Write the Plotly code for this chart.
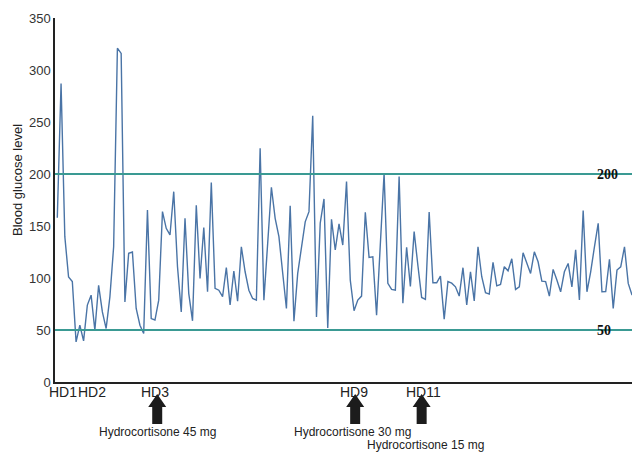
import plotly.graph_objects as go

# Blood glucose readings in measurement order
glucose = [
    158, 287, 140, 101, 96.6, 38.5, 54.6, 39.5, 74, 83.5,
    49.8, 93, 67.4, 51.4, 81.9, 130, 321, 316, 77, 123.7,
    125, 70.7, 54.6, 46.6, 165.4, 61, 59.6, 78.7, 163.8, 147.8,
    141.4, 183, 110.8, 67.4, 157.4, 85, 58.8, 170, 99.6, 148.4,
    86.7, 191.7, 90, 88.3, 82, 110, 74, 106.7, 77.7, 130,
    106, 88.3, 80.3, 78.7, 224.8, 78.7, 133, 187.3, 157.4, 139.7,
    105, 70.7, 169.5, 58.5, 104.4, 130, 154, 163.8, 256, 62.6,
    152.7, 176, 52, 156.4, 126.9, 152, 131.7, 192.7, 98, 68.5,
    78.8, 82.6, 163.2, 119.8, 120.4, 64.2, 130, 200.7, 94.8, 89,
    88.3, 197.5, 75.8, 129.5, 91.8, 144.6, 112, 81.3, 79.4, 163.5,
    95.4, 95.4, 101.8, 60.5, 96.6, 95, 91.5, 82.6, 109.9, 74,
    106, 78, 130, 101.2, 85.8, 84.5, 115, 92.5, 93.8, 110.8,
    106.9, 118.5, 89, 91.5, 124.3, 113.4, 104.4, 125.2, 115.6, 97,
    96.5, 82.6, 108.3, 98, 86.7, 106, 114, 91.5, 127, 78.8,
    164.8, 86.7, 106, 130, 152.6, 86.7, 87, 118, 70.7, 107.6,
    110.8, 130, 94.8, 83.5,
]
measurement = list(range(len(glucose)))

# Reference thresholds
thresholds = [200, 50]
threshold_labels = ["200", "50"]

# Hospital-day labels (position in measurement index)
hd_labels = ["HD1", "HD2", "HD3", "HD9", "HD11"]
hd_index = [1.4, 9.2, 26.1, 78.9, 97.4]

# Hydrocortisone doses (arrow position in measurement index)
dose_labels = ["Hydrocortisone 45 mg", "Hydrocortisone 30 mg", "Hydrocortisone 15 mg"]
dose_index = [26.6, 79.3, 97.0]
dose_text_index = [26.7, 78.5, 97.9]

y_ticks = [0, 50, 100, 150, 200, 250, 300, 350]

W, H = 632, 452
ML, MR, MT, MB = 55, 0, 18, 70
plot_w = W - ML - MR
plot_h = H - MT - MB
first_px = 57.3
step_px = (W - first_px) / (len(glucose) - 1)
x0 = -(first_px - ML) / step_px
x1 = len(glucose) - 1


def py(pix):
    # pixel row -> paper y
    return (H - MB - pix) / plot_h


fig = go.Figure()
fig.add_trace(go.Scatter(
    x=measurement, y=glucose, mode="lines",
    line=dict(color="#4a74a6", width=1.4), hoverinfo="skip", showlegend=False,
))

shapes = []
for t in thresholds:
    shapes.append(dict(type="line", xref="paper", yref="y", x0=0, x1=1, y0=t, y1=t,
                       line=dict(color="#3a9a93", width=2), layer="above"))

annotations = []
for t, lab in zip(thresholds, threshold_labels):
    annotations.append(dict(x=(595 - ML) / plot_w, xref="paper", y=t, yref="y",
                            text="<b>%s</b>" % lab, showarrow=False, xanchor="left",
                            yanchor="middle",
                            font=dict(family="Liberation Serif", size=14, color="#111")))

for lab, xi in zip(hd_labels, hd_index):
    annotations.append(dict(x=xi, xref="x", y=py(392), yref="paper", text=lab,
                            showarrow=False, xanchor="center", yanchor="middle",
                            font=dict(family="Liberation Sans, Arial", size=14, color="#222")))

dose_rows = [432, 432, 445]
for lab, xi, row in zip(dose_labels, dose_text_index, dose_rows):
    annotations.append(dict(x=xi, xref="x", y=py(row), yref="paper", text=lab,
                            showarrow=False, xanchor="center", yanchor="middle",
                            font=dict(family="Liberation Sans, Arial", size=12, color="#222")))

# block arrows
shaft = 5 / step_px
head = 9 / step_px
for xi in dose_index:
    path = "M {a} {t} L {b} {hb} L {c} {hb} L {c} {bt} L {d} {bt} L {d} {hb} L {e} {hb} Z".format(
        a=xi, t=py(394), b=xi + head, hb=py(407), c=xi + shaft, bt=py(424),
        d=xi - shaft, e=xi - head)
    shapes.append(dict(type="path", xref="x", yref="paper", path=path,
                       fillcolor="#1c1c1c", line=dict(width=0), layer="above"))

annotations.append(dict(x=-(ML - 17) / plot_w, xref="paper", y=py(180), yref="paper",
                        text="Blood glucose level", textangle=-90, showarrow=False,
                        xanchor="center", yanchor="middle",
                        font=dict(family="Liberation Sans, Arial", size=13, color="#222")))

fig.update_layout(
    width=W, height=H,
    margin=dict(l=ML, r=MR, t=MT, b=MB, pad=0),
    paper_bgcolor="white", plot_bgcolor="white",
    shapes=shapes, annotations=annotations,
    xaxis=dict(range=[x0, x1], showgrid=False, zeroline=False, showticklabels=False,
               ticks="", showline=True, linecolor="#222", linewidth=1.5),
    yaxis=dict(range=[0, 350], tickvals=y_ticks, showgrid=False, zeroline=False,
               ticks="", showline=True, linecolor="#222", linewidth=1.5,
               tickfont=dict(family="Liberation Sans, Arial", size=13, color="#333")),
)

fig.write_html("out.html", config={"displayModeBar": False},
               post_script="document.body.style.margin='0';document.body.style.overflow='hidden';")
